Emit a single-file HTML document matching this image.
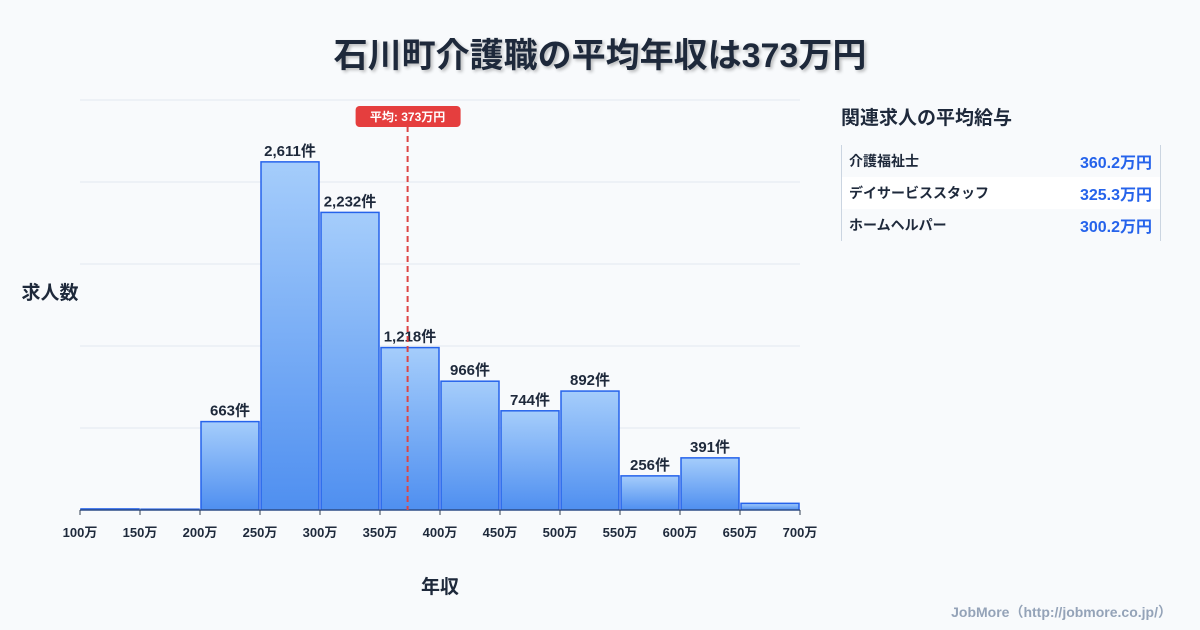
<!DOCTYPE html>
<html><head><meta charset="utf-8"><style>
body{margin:0;width:1200px;height:630px;background:#f8fafc;font-family:"Liberation Sans","Noto Sans CJK JP",sans-serif;overflow:hidden;position:relative}
.t{position:absolute;left:0;width:1200px;top:28px;text-align:center;font-size:34px;font-weight:bold;color:#1e293b;text-shadow:2px 2px 3px rgba(0,0,0,0.25)}
.ph{position:absolute;left:841px;top:103px;font-size:19px;font-weight:bold;color:#1e293b}
.tb{position:absolute;left:841px;top:145px;width:318px;border-left:1px solid #cbd5e1;border-right:1px solid #cbd5e1}
.r{height:32px;display:flex;justify-content:space-between;align-items:center;padding:0 8px 0 7px;font-size:14px;font-weight:bold;color:#1e293b}
.r span:last-child{color:#2563eb;font-size:16px}
.r.w{background:#fff}
.ft{position:absolute;right:28px;top:602px;font-size:14px;font-weight:bold;color:#94a3b8}
</style></head><body>
<div class="t">石川町介護職の平均年収は373万円</div>
<svg id="c" width="1200" height="630" style="position:absolute;left:0;top:0"></svg>
<div class="ph">関連求人の平均給与</div>
<div class="tb">
<div class="r"><span>介護福祉士</span><span>360.2万円</span></div>
<div class="r w"><span>デイサービススタッフ</span><span>325.3万円</span></div>
<div class="r"><span>ホームヘルパー</span><span>300.2万円</span></div>
</div>
<div class="ft">JobMore（http://jobmore.co.jp/）</div>
<script>
const binStarts=[100,150,200,250,300,350,400,450,500,550,600,650];
const counts=[8,6,663,2611,2232,1218,966,744,892,256,391,50];
const showLabel=[false,false,true,true,true,true,true,true,true,true,true,false];
const xTicks=[100,150,200,250,300,350,400,450,500,550,600,650,700];
const meanVal=373;
const NS="http://www.w3.org/2000/svg";
const svg=document.getElementById('c');
const x0=80,x1=800,yB=510,yT=100,yMax=3075;
const xs=v=>x0+(v-100)/600*(x1-x0);
const ys=v=>yB-v/yMax*(yB-yT)*1.0;
function mk(t,a){const e=document.createElementNS(NS,t);for(const k in a)e.setAttribute(k,a[k]);svg.appendChild(e);return e;}
const defs=mk('defs',{});
defs.innerHTML='<linearGradient id="g" x1="0" y1="0" x2="0" y2="1"><stop offset="0" stop-color="#a5cdfb"/><stop offset="1" stop-color="#4f8ff0"/></linearGradient>';
for(let i=0;i<6;i++){const y=yB-i*82;const l=mk('line',{x1:x0,x2:x1,y1:y,y2:y,stroke:'#e2e8f0','stroke-width':1});

}
counts.forEach((c,i)=>{const xa=xs(binStarts[i]),xb=xs(binStarts[i]+50);const y=ys(c);
const r=mk('rect',{x:xa+1,y:y,width:xb-xa-2,height:yB-y,fill:'url(#g)',stroke:'#2563eb','stroke-width':1.5});


if(showLabel[i]){const t=mk('text',{x:(xa+xb)/2,y:y-6,'text-anchor':'middle','font-size':15,'font-weight':'bold',fill:'#1e293b'});t.textContent=c.toLocaleString('en-US')+'件';

}
});
mk('line',{x1:x0,x2:x1,y1:yB,y2:yB,stroke:'#334155','stroke-width':1});
xTicks.forEach(v=>{const x=xs(v);mk('line',{x1:x,x2:x,y1:yB,y2:yB+5,stroke:'#334155'});
const t=mk('text',{x:x,y:537,'text-anchor':'middle','font-size':13,'font-weight':'bold',fill:'#1e293b'});t.textContent=v+'万';

});
const mx=xs(meanVal);
const ml=mk('line',{x1:mx,x2:mx,y1:126,y2:yB,stroke:'#dc4444','stroke-width':2,'stroke-dasharray':'6,4'});


const mb=mk('rect',{x:mx-52,y:106,width:105,height:21,rx:4,fill:'#e53e3e'});


const mt=mk('text',{x:mx,y:121,'text-anchor':'middle','font-size':12,'font-weight':'bold',fill:'#fff'});mt.textContent='平均: '+meanVal+'万円';


const yt=mk('text',{x:50,y:299,'text-anchor':'middle','font-size':19,'font-weight':'bold',fill:'#1e293b'});yt.textContent='求人数';


const xt=mk('text',{x:440,y:593,'text-anchor':'middle','font-size':19,'font-weight':'bold',fill:'#1e293b'});xt.textContent='年収';


</script>
</body></html>
